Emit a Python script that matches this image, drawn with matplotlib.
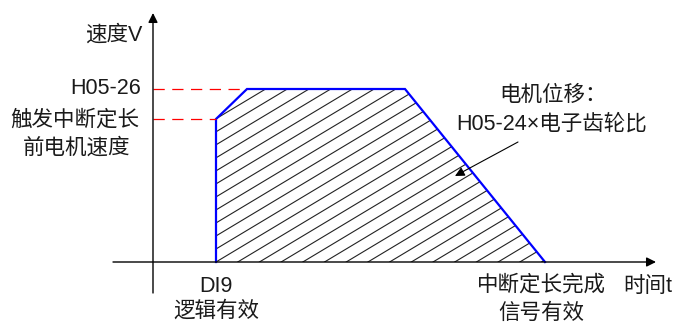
import numpy as np
import matplotlib.pyplot as plt
from matplotlib.patches import Polygon

plt.rcParams['font.family'] = ['Liberation Sans', 'Noto Sans CJK SC', 'DejaVu Sans']

# speed profile (time, speed) in drawing units, origin at the axes crossing
t_pts = [63, 63, 94, 252, 392]
v_pts = [0, 143, 173, 173, 0]
v_trigger = 143   # speed before the interrupt
v_set = 173       # H05-26

# hatch geometry
hatch_slope = 0.6
hatch_step = 21.7

fig = plt.figure(figsize=(6.76, 3.24), dpi=100)
ax = fig.add_axes([0, 0, 1, 1])
ax.set_xlim(-153, 523)
ax.set_ylim(-62, 262)
ax.axis('off')

# axes with arrows
ax.annotate('', xy=(503, 0), xytext=(-40, 0),
            arrowprops=dict(arrowstyle='-|>', color='black', lw=1,
                            mutation_scale=14, shrinkA=0, shrinkB=0))
ax.annotate('', xy=(0, 249), xytext=(0, -31),
            arrowprops=dict(arrowstyle='-|>', color='black', lw=1,
                            mutation_scale=14, shrinkA=0, shrinkB=0))

# hatched area clipped to the profile
poly = Polygon(list(zip(t_pts, v_pts)), closed=True, facecolor='none',
               edgecolor='none')
ax.add_patch(poly)
for x0 in np.arange(t_pts[0] - 20 * hatch_step, t_pts[-1] + hatch_step, hatch_step):
    xs = np.array([x0, x0 + 400])
    ln, = ax.plot(xs, hatch_slope * (xs - x0), color='#222222', lw=0.8)
    ln.set_clip_path(poly)

# blue outline
ax.plot(t_pts, v_pts, color='#0000ff', lw=1.6, solid_joinstyle='miter')

# red dashed reference levels
ax.plot([0, t_pts[2]], [v_set, v_set], color='#ff0000', lw=0.9, dashes=(9, 6))
ax.plot([0, t_pts[1]], [v_trigger, v_trigger], color='#ff0000', lw=0.9, dashes=(9, 6))

fs = 15.5
tc = '#1a1a1a'
ax.text(-11, 227, '速度V', fontsize=fs, ha='right', va='center', color=tc)
ax.text(-12, v_set + 1, 'H05-26', fontsize=fs, ha='right', va='center', color=tc)
ax.text(-14, v_trigger - 1, '触发中断定长', fontsize=fs, ha='right', va='center', color=tc)
ax.text(-76, 114, '前电机速度', fontsize=fs, ha='center', va='center', color=tc)
ax.text(t_pts[0], -24, 'DI9', fontsize=fs, ha='center', va='center', color=tc)
ax.text(t_pts[0], -49, '逻辑有效', fontsize=fs, ha='center', va='center', color=tc)
ax.text(t_pts[-1] - 4, -23, '中断定长完成', fontsize=fs, ha='center', va='center', color=tc)
ax.text(t_pts[-1] - 4, -51, '信号有效', fontsize=fs, ha='center', va='center', color=tc)
ax.text(470, -24, '时间t', fontsize=fs, ha='left', va='center', color=tc)
ax.text(400, 167, '电机位移：', fontsize=fs, ha='center', va='center', color=tc)
ax.text(399, 138, 'H05-24×电子齿轮比', fontsize=fs, ha='center', va='center', color=tc)

# pointer to the area
ax.annotate('', xy=(302, 86), xytext=(365, 120),
            arrowprops=dict(arrowstyle='-|>', color='black', lw=0.8,
                            mutation_scale=14, shrinkA=0, shrinkB=0))

fig.savefig('out.png', dpi=100)
